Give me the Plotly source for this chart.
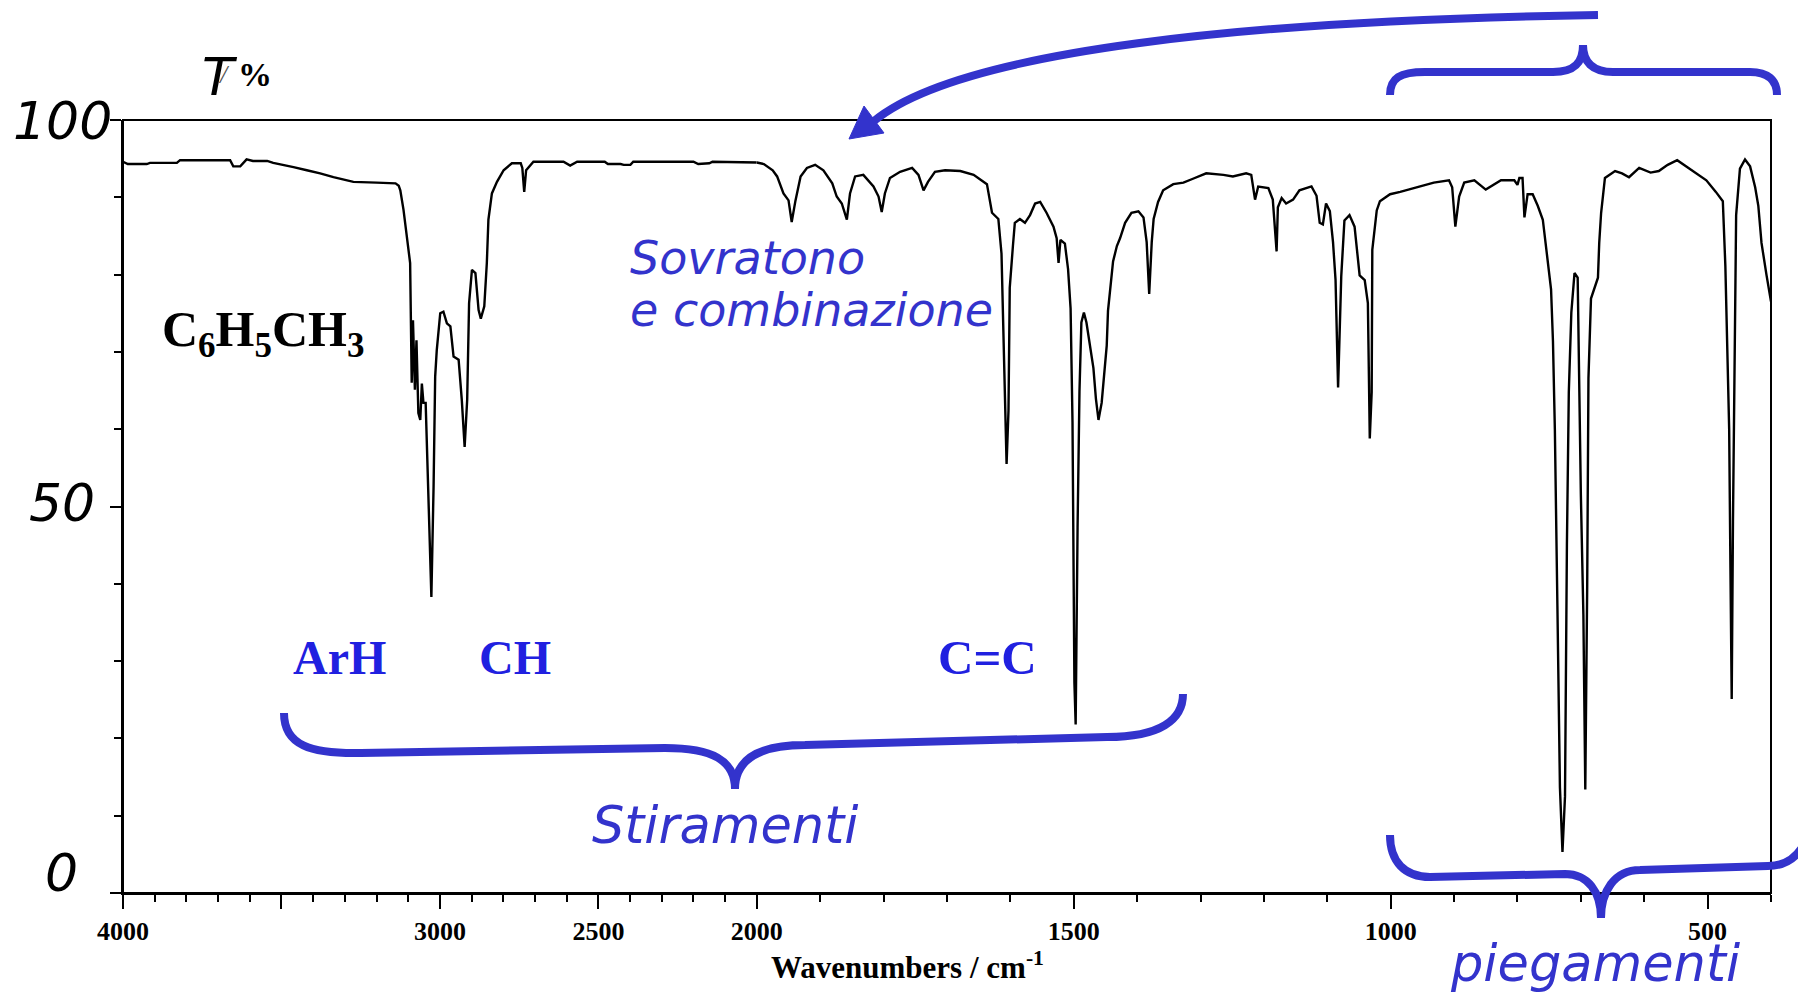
import plotly.graph_objects as go

# Toluene IR spectrum, transmittance (%) vs wavenumber (cm-1)
# 4000-2000 cm-1 part (compressed scale)
wn_high = [4000, 3985, 3925, 3915, 3830, 3820, 3662, 3652, 3630, 3610, 3590, 3545,
           3526, 3494, 3462, 3420, 3378, 3336, 3290, 3273, 3200, 3140, 3130, 3125,
           3115, 3104, 3094, 3089, 3085, 3079, 3074, 3068, 3062, 3057, 3052, 3045,
           3036, 3027, 3020, 3015, 3010, 2999, 2989, 2978, 2967, 2957, 2941, 2931,
           2922, 2914, 2908, 2899, 2888, 2878, 2871, 2860, 2852, 2847, 2836, 2820,
           2799, 2773, 2745, 2740, 2734, 2728, 2705, 2610, 2589, 2567, 2480, 2470,
           2430, 2420, 2399, 2390, 2200, 2185, 2150, 2140, 2000]
t_high = [94.6, 94.3, 94.3, 94.45, 94.45, 94.8, 94.8, 94.0, 94.0, 94.9, 94.7, 94.7,
          94.45, 94.2, 93.9, 93.5, 93.1, 92.6, 92.2, 92.0, 91.9, 91.8, 91.5, 90.9,
          88.4, 84.5, 81.5, 66.0, 74.1, 65.1, 71.5, 62.1, 61.2, 65.9, 63.4, 63.4,
          50.4, 38.3, 52.6, 66.8, 70.2, 75.0, 75.2, 73.7, 73.3, 69.4, 69.0, 63.8,
          57.7, 63.8, 76.3, 80.6, 80.2, 75.4, 74.3, 75.9, 81.5, 87.1, 90.5, 92.0,
          93.5, 94.4, 94.4, 93.8, 90.7, 93.5, 94.6, 94.6, 94.1, 94.6, 94.6, 94.3,
          94.3, 94.2, 94.2, 94.6, 94.6, 94.3, 94.4, 94.6, 94.5]

# 2000-400 cm-1 part (expanded scale)
wn_low = [2000, 1989, 1975, 1968, 1958, 1950, 1945, 1939, 1931, 1921, 1908, 1895,
          1881, 1874, 1866, 1858, 1853, 1845, 1832, 1816, 1808, 1803, 1798, 1790,
          1774, 1755, 1745, 1737, 1730, 1719, 1703, 1679, 1658, 1637, 1629, 1619,
          1614, 1608, 1606, 1603, 1601, 1596, 1593, 1585, 1577, 1569, 1561, 1553,
          1543, 1532, 1527, 1524, 1521, 1514, 1509, 1505, 1502, 1499, 1497, 1494,
          1491, 1488, 1484, 1480, 1474, 1469, 1465, 1461, 1456, 1452, 1448, 1446,
          1442, 1438, 1432, 1427, 1419, 1409, 1398, 1390, 1385, 1381, 1377, 1374,
          1367, 1359, 1343, 1327, 1312, 1291, 1264, 1249, 1228, 1220, 1214, 1209,
          1193, 1186, 1180, 1178, 1172, 1165, 1154, 1144, 1125, 1117, 1112, 1107,
          1102, 1096, 1091, 1087, 1083, 1080, 1078, 1073, 1065, 1057, 1049, 1041,
          1036, 1033, 1030, 1029, 1022, 1017, 1001, 985, 959, 932, 908, 903,
          898, 892, 884, 868, 850, 826, 805, 800, 797, 792, 789, 784,
          776, 768, 760, 752, 747, 744, 741, 737, 733, 729, 725, 722,
          719, 715, 710, 705, 703, 700, 696, 693, 690, 688, 684, 679,
          673, 671, 668, 662, 646, 635, 624, 608, 590, 577, 563, 548,
          534, 518, 502, 487, 476, 472, 466, 464, 462, 460, 457, 455,
          449, 441, 433, 425, 420, 415, 407, 401, 400]
t_low = [94.5, 94.3, 93.5, 92.7, 90.5, 89.6, 86.8, 89.6, 92.7, 93.8, 94.2, 93.5,
         91.8, 90.1, 89.2, 87.1, 90.5, 92.7, 92.9, 91.4, 90.1, 88.1, 90.5, 92.5,
         93.3, 93.8, 92.9, 90.9, 92.0, 93.3, 93.5, 93.4, 92.9, 91.7, 88.0, 87.2,
         82.7, 64.9, 55.5, 62.4, 78.3, 83.7, 86.7, 87.2, 86.7, 87.7, 89.2, 89.4,
         88.0, 86.2, 84.7, 81.5, 84.5, 84.0, 80.7, 75.6, 60.9, 27.2, 21.8, 47.3,
         64.9, 73.8, 75.1, 73.8, 70.3, 67.9, 63.9, 61.2, 63.4, 66.9, 70.8, 75.3,
         78.8, 81.7, 83.7, 84.7, 86.7, 88.0, 88.2, 87.4, 84.2, 77.5, 84.2, 87.2,
         89.4, 90.9, 91.7, 91.9, 92.4, 93.1, 92.9, 92.7, 93.1, 92.9, 89.7, 91.4,
         91.2, 89.7, 83.0, 88.7, 89.9, 89.2, 89.7, 90.9, 91.4, 90.2, 86.7, 86.5,
         89.2, 88.2, 84.2, 79.3, 65.4, 72.8, 79.8, 87.0, 87.7, 86.2, 79.9, 79.3,
         76.3, 58.8, 64.8, 83.2, 88.3, 89.5, 90.4, 90.7, 91.3, 91.9, 92.2, 91.3,
         86.2, 90.1, 91.9, 92.2, 91.0, 92.2, 92.2, 91.6, 92.5, 92.5, 87.4, 90.4,
         90.4, 88.9, 87.1, 81.7, 78.1, 71.4, 60.0, 37.2, 13.7, 5.3, 12.5, 45.0,
         64.8, 75.1, 80.2, 79.6, 68.4, 51.6, 36.0, 13.4, 39.6, 66.6, 76.9, 78.1,
         79.6, 84.1, 88.0, 92.5, 93.4, 93.1, 92.6, 93.8, 93.2, 93.4, 94.2, 94.8,
         94.0, 93.1, 92.2, 90.7, 89.5, 81.1, 60.0, 42.0, 25.1, 48.0, 76.3, 87.7,
         93.7, 94.9, 94.0, 91.3, 88.9, 84.1, 79.9, 76.9, 76.5]

# axis ticks
hi_tickvals = [4000, 3500, 3000, 2500, 2000]
hi_ticktext = ["4000", "", "3000", "2500", "2000"]
lo_tickvals = [1500, 1000, 500]
lo_ticktext = ["1500", "1000", "500"]
y_labels = [100, 50, 0]

W, H = 1798, 992
L, R, T, B = 123, 1771, 120, 893          # plot area in pixels
BLUE = "#3333CC"
BOLD_BLUE = "#2020E0"

# the 2000-400 range is drawn at twice the density of the 4000-2000 range
span_hi = 4000 - 2000
span_lo = (2000 - 400) * 2
split = span_hi / (span_hi + span_lo)


def px(x):
    return (x - L) / (R - L)


def py(y):
    return (B - y) / (B - T)


def path(cmds):
    """Build an SVG path in paper units from pixel-space commands."""
    out = []
    for c, pts in cmds:
        coords = " ".join(f"{px(x):.5f},{py(y):.5f}" for x, y in pts)
        out.append(f"{c} {coords}")
    return " ".join(out)


line_style = dict(color="black", width=2.4)
fig = go.Figure()
fig.add_trace(go.Scatter(x=wn_high, y=t_high, mode="lines", line=line_style,
                         xaxis="x", yaxis="y", hoverinfo="skip"))
fig.add_trace(go.Scatter(x=wn_low, y=t_low, mode="lines", line=line_style,
                         xaxis="x2", yaxis="y", hoverinfo="skip"))

tickfont = dict(family="Liberation Serif", size=26, color="black", weight="bold")
minor = dict(dtick=100, tick0=0, ticklen=7, tickwidth=2, tickcolor="black", ticks="outside")
common_x = dict(showgrid=False, zeroline=False, showline=True, linecolor="black",
                linewidth=2, ticks="outside", ticklen=14, tickwidth=2,
                tickcolor="black", tickfont=tickfont, anchor="y", tickmode="array",
                minor=minor, automargin=False)

fig.update_layout(
    width=W, height=H, autosize=False,
    margin=dict(l=L, r=W - R, t=T, b=H - B, pad=0, autoexpand=False),
    paper_bgcolor="white", plot_bgcolor="white",
    showlegend=False,
    xaxis=dict(domain=[0, split], range=[4000, 2000], tickvals=hi_tickvals,
               ticktext=hi_ticktext, **common_x),
    xaxis2=dict(domain=[split, 1], range=[2000, 400], tickvals=lo_tickvals,
                ticktext=lo_ticktext, **common_x),
    yaxis=dict(domain=[0, 1], range=[0, 100], showgrid=False, zeroline=False,
               showline=True, linecolor="black", linewidth=2, ticks="outside",
               ticklen=11, tickwidth=2, tickcolor="black", tickvals=y_labels,
               showticklabels=False, anchor="x", automargin=False,
               minor=dict(dtick=10, ticklen=7, tickwidth=2, tickcolor="black",
                          ticks="outside")),
)

shapes = []
# plot frame
shapes.append(dict(type="rect", xref="paper", yref="paper", x0=0, x1=1, y0=0, y1=1,
                   line=dict(color="black", width=2), layer="above"))

brace_line = dict(color=BLUE, width=8)
# brace under the stretching region
shapes.append(dict(type="path", xref="paper", yref="paper", line=brace_line, path=path([
    ("M", [(284, 713)]),
    ("C", [(284, 745), (310, 754), (361, 753)]),
    ("L", [(665, 748)]),
    ("C", [(712, 748), (735, 760), (735, 789)]),
    ("C", [(735, 760), (758, 745), (805, 745)]),
    ("L", [(1107, 737)]),
    ("C", [(1160, 737), (1183, 720), (1183, 694)]),
])))
# brace above the fingerprint region
shapes.append(dict(type="path", xref="paper", yref="paper", line=brace_line, path=path([
    ("M", [(1390, 95)]),
    ("C", [(1390, 78), (1400, 72), (1425, 72)]),
    ("L", [(1553, 72)]),
    ("C", [(1575, 72), (1583, 62), (1583, 45)]),
    ("C", [(1583, 62), (1592, 72), (1613, 72)]),
    ("L", [(1750, 72)]),
    ("C", [(1768, 72), (1777, 80), (1777, 95)]),
])))
# brace under the bending region
shapes.append(dict(type="path", xref="paper", yref="paper", line=brace_line, path=path([
    ("M", [(1390, 835)]),
    ("C", [(1390, 862), (1405, 877), (1430, 877)]),
    ("L", [(1565, 874)]),
    ("C", [(1588, 874), (1601, 892), (1601, 918)]),
    ("C", [(1601, 892), (1614, 870), (1640, 870)]),
    ("L", [(1768, 866)]),
    ("C", [(1785, 866), (1798, 858), (1806, 840)]),
])))
# curved arrow pointing at the overtone region
shapes.append(dict(type="path", xref="paper", yref="paper", line=brace_line, path=path([
    ("M", [(1598, 15)]),
    ("C", [(1250, 20), (960, 50), (874, 121)]),
])))
shapes.append(dict(type="path", xref="paper", yref="paper",
                   line=dict(color=BLUE, width=1), fillcolor=BLUE, path=path([
                       ("M", [(849, 139)]),
                       ("L", [(884, 133)]),
                       ("L", [(864, 106)]),
                       ("Z", []),
                   ])))
fig.update_layout(shapes=shapes)

ann = []


def text(x, y, s, size, family, color, style="normal", weight="normal",
         xanchor="left"):
    ann.append(dict(x=px(x), y=py(y), xref="paper", yref="paper", text=s,
                    showarrow=False, xanchor=xanchor, yanchor="middle",
                    font=dict(family=family, size=size, color=color, style=style,
                              weight=weight)))


# y tick labels, placed at their axis values
y_shift = {100: -1, 50: 4, 0: 20}
y_right = {100: 114, 50: 97, 0: 80}
for v in y_labels:
    ann.append(dict(x=px(y_right[v]), y=v, xref="paper", yref="y", text=str(v),
                    showarrow=False, xanchor="right", yanchor="middle",
                    yshift=y_shift[v],
                    font=dict(family="DejaVu Sans", size=52, color="black",
                              style="italic")))

# y axis title  T / %
text(200, 77, "T", 52, "DejaVu Sans", "black", style="italic")
text(216, 75, "/", 26, "Liberation Serif", "#555555", style="italic")
text(236, 75, "%", 34, "Liberation Serif", "black", weight="bold")

# x axis title
text(769, 966, "Wavenumbers / cm<sup>-1</sup>", 31, "Liberation Serif", "black",
     weight="bold")

# compound
text(160, 333, "C<sub>6</sub>H<sub>5</sub>CH<sub>3</sub>", 50, "Liberation Serif",
     "black", weight="bold")

# band group labels
text(291, 657, "ArH", 48, "Liberation Serif", BOLD_BLUE, weight="bold")
text(477, 657, "CH", 48, "Liberation Serif", BOLD_BLUE, weight="bold")
text(936, 657, "C=C", 49, "Liberation Serif", BOLD_BLUE, weight="bold")

text(628, 258, "Sovratono", 46, "DejaVu Sans", BLUE, style="italic")
text(628, 310, "e combinazione", 46, "DejaVu Sans", BLUE, style="italic")
text(590, 825, "Stiramenti", 51, "DejaVu Sans", BLUE, style="italic")
text(1448, 964, "piegamenti", 51, "DejaVu Sans", BLUE, style="italic")

fig.update_layout(annotations=ann)

fig.write_html("out.html", config={"responsive": False})
